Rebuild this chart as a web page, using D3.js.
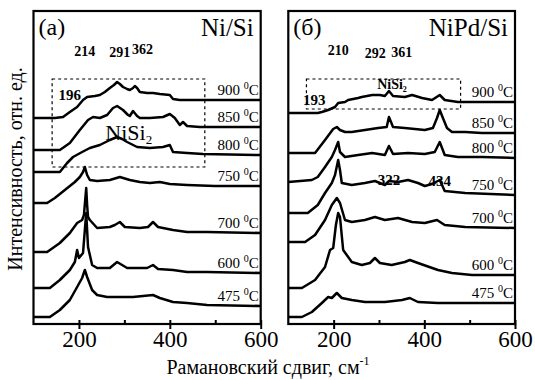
<!DOCTYPE html>
<html><head><meta charset="utf-8">
<script src="https://cdn.jsdelivr.net/npm/d3@7/dist/d3.min.js"></script>
<style>body{margin:0;background:#fff}text{font-family:"Liberation Serif","Times New Roman",serif;fill:#000}</style>
</head><body>
<svg id="c" width="535" height="380"></svg>
<script>
// ---------- data (Raman shift cm^-1, offset intensity, arb. units) ----------
const temperatures = ["475", "600", "700", "750", "800", "850", "900"];
const xTicksMajor = [200, 400, 600];
const xTicksMinor = [300, 500];

// Ni/Si panel (a)
const niSi475 = [[100,7],[136,7],[158,14],[180,24],[196,37],[207,46],[213,54],[218,47],[229,34],[240,29],[262,27],[290,27],[319,27],[363,29],[378,26],[407,22],[438,21],[482,19],[600,18]];
const niSi600 = [[100,36],[136,36],[158,44],[180,54],[191,62],[196,74],[200,66],[209,71],[213,94],[216,111],[218,94],[220,77],[229,59],[240,56],[268,56],[284,62],[295,59],[306,56],[350,56],[363,59],[374,55],[407,54],[438,52],[482,52],[600,51]];
const niSi700 = [[100,72],[130,72],[158,81],[180,91],[196,101],[207,104],[211,109],[216,136],[218,119],[220,107],[224,104],[240,96],[268,97],[279,99],[290,102],[301,97],[334,96],[352,97],[363,102],[374,97],[407,94],[438,92],[482,92],[600,91]];
const niSi750 = [[100,121],[130,121],[147,126],[169,134],[191,142],[202,147],[209,152],[213,157],[218,149],[224,144],[240,143],[268,144],[290,147],[312,144],[334,142],[356,141],[378,142],[400,140],[438,139],[499,138],[600,138]];
const niSi800 = [[100,152],[158,152],[174,161],[187,167],[207,172],[224,176],[246,179],[268,184],[284,187],[295,185],[306,182],[328,177],[356,176],[385,177],[400,179],[407,172],[438,171],[473,170],[600,169]];
const niSi850 = [[100,174],[158,174],[180,181],[202,194],[220,204],[231,207],[246,206],[262,209],[275,216],[284,218],[297,214],[308,209],[312,208],[319,213],[328,208],[334,206],[356,206],[385,207],[400,210],[411,206],[422,199],[429,202],[438,198],[466,197],[600,197]];
const niSi900 = [[100,206],[147,206],[165,207],[180,212],[196,217],[209,224],[218,227],[235,228],[246,229],[257,232],[268,236],[277,239],[284,242],[290,240],[297,237],[306,235],[312,234],[319,236],[323,238],[328,236],[334,232],[350,231],[363,231],[378,230],[400,229],[407,225],[422,224],[438,224],[466,224],[532,224],[600,224]];

// NiPd/Si panel (б)
const niPdSi475 = [[100,7],[130,7],[152,12],[174,21],[188,27],[196,26],[207,31],[218,26],[240,24],[269,22],[313,22],[351,24],[368,26],[386,22],[430,21],[505,21],[600,21]];
const niPdSi600 = [[100,36],[130,36],[159,44],[181,57],[192,74],[199,76],[205,99],[210,111],[214,107],[221,74],[240,62],[262,59],[280,61],[291,66],[302,61],[328,59],[357,62],[368,64],[386,61],[430,54],[461,51],[505,49],[600,49]];
const niPdSi700 = [[100,82],[137,82],[159,89],[181,104],[196,119],[207,126],[214,121],[225,104],[240,102],[269,104],[291,107],[313,104],[342,106],[373,102],[401,101],[428,104],[445,99],[490,97],[600,96]];
const niPdSi750 = [[100,111],[143,111],[165,119],[181,131],[196,141],[203,149],[210,164],[214,154],[218,141],[240,139],[269,141],[291,143],[313,139],[322,143],[342,142],[364,144],[386,141],[401,138],[417,140],[434,144],[445,133],[490,131],[600,129]];
const niPdSi800 = [[100,142],[152,144],[165,147],[181,157],[196,167],[203,174],[210,182],[214,172],[225,167],[254,169],[285,171],[313,169],[322,178],[331,170],[364,171],[401,170],[423,172],[434,182],[445,169],[474,167],[527,167],[600,166]];
const niPdSi850 = [[100,171],[159,171],[181,184],[199,195],[207,197],[214,194],[225,192],[240,192],[269,194],[298,196],[317,197],[322,207],[331,197],[357,196],[401,194],[419,196],[428,206],[434,214],[441,206],[450,196],[461,192],[490,192],[527,191],[600,191]];
const niPdSi900 = [[100,211],[165,211],[174,212],[188,214],[203,217],[210,221],[225,222],[232,224],[254,226],[262,227],[285,229],[302,229],[313,228],[322,233],[331,228],[357,227],[373,229],[395,226],[417,224],[434,229],[445,224],[474,222],[518,222],[600,222]];

const niSiSeries = [niSi475, niSi600, niSi700, niSi750, niSi800, niSi850, niSi900];
const niPdSiSeries = [niPdSi475, niPdSi600, niPdSi700, niPdSi750, niPdSi800, niPdSi850, niPdSi900];

const niSiPeaks = ["214", "291", "362"];
const niPdSiPeaks = ["210", "292", "361"];

// ---------- drawing ----------
const svg = d3.select("#c");
const plotTop = 11, plotBottom = 324;
const y = d3.scaleLinear().domain([0, 313]).range([plotBottom, plotTop]);

function panel(id, x0, x1, series, title, letter) {
  const x = d3.scaleLinear().domain([100, 600]).range([x0, x1]);
  const g = svg.append("g");
  g.append("clipPath").attr("id", "clip" + id).append("rect")
    .attr("x", x0).attr("y", plotTop).attr("width", x1 - x0).attr("height", plotBottom - plotTop);
  const line = d3.line().x(d => x(d[0])).y(d => y(d[1]));
  const lines = g.append("g").attr("clip-path", `url(#clip${id})`);
  series.forEach(s => {
    lines.append("path").attr("d", line(s)).attr("fill", "none")
      .attr("stroke", "#000").attr("stroke-width", 2.5).attr("stroke-linejoin", "round");
  });
  series.forEach((s, i) => {
    const last = s[s.length - 1];
    const t = g.append("text").attr("x", x1 - 2).attr("y", y(last[1]) - 5)
      .attr("text-anchor", "end").style("font-size", "15px");
    t.append("tspan").text(temperatures[i] + " ");
    t.append("tspan").text("0").style("font-size", "10px").attr("dy", -6);
    t.append("tspan").text("C").attr("dy", 6);
  });
  g.append("rect").attr("x", x0).attr("y", plotTop).attr("width", x1 - x0).attr("height", plotBottom - plotTop)
    .attr("fill", "none").attr("stroke", "#000").attr("stroke-width", 2.2);
  const ax = g.append("g").attr("transform", `translate(0,${plotBottom})`)
    .call(d3.axisBottom(x).tickValues(xTicksMajor).tickSizeInner(5).tickSizeOuter(0).tickPadding(2));
  ax.select(".domain").remove();
  ax.selectAll("line").attr("stroke-width", 2);
  ax.selectAll("text").style("font-size", "23px").style("font-family", '"Liberation Serif",serif').attr("fill", "#000");
  const axIn = g.append("g").attr("transform", `translate(0,${plotBottom})`)
    .call(d3.axisBottom(x).tickValues(xTicksMajor.concat(xTicksMinor)).tickSizeInner(-4).tickSizeOuter(0).tickFormat(""));
  axIn.select(".domain").remove();
  axIn.selectAll("line").attr("stroke-width", 2);
  g.append("text").attr("x", x0 + 5).attr("y", 35).style("font-size", "24px").text(letter);
  g.append("text").attr("x", x1 - 7).attr("y", 36).attr("text-anchor", "end").style("font-size", "25px").text(title);
  return x;
}

const xa = panel("a", 33.5, 260.7, niSiSeries, "Ni/Si", "(a)");
const xb = panel("b", 288.3, 515, niPdSiSeries, "NiPd/Si", "(б)");

function bold(xp, yp, txt, size) {
  svg.append("text").attr("x", xp).attr("y", yp).attr("text-anchor", "middle")
    .style("font-size", (size || 14) + "px").style("font-weight", "bold").text(txt);
}
bold(xa(213), 56, niSiPeaks[0]);
bold(xa(290), 57, niSiPeaks[1]);
bold(xa(340), 54, niSiPeaks[2]);
bold(xa(180), 100, "196", 15);
const ns = svg.append("text").attr("x", xa(258)).attr("y", 140).style("font-size", "22px");
ns.append("tspan").text("NiSi");
ns.append("tspan").text("2").style("font-size", "13px").attr("dy", 4);
svg.append("rect").attr("x", xa(141)).attr("y", 79).attr("width", xa(477) - xa(141)).attr("height", 88)
  .attr("fill", "none").attr("stroke", "#000").attr("stroke-width", 1.2).attr("stroke-dasharray", "3,3");
svg.append("rect").attr("x", xb(140)).attr("y", 79).attr("width", xb(480) - xb(140)).attr("height", 30)
  .attr("fill", "none").attr("stroke", "#000").attr("stroke-width", 1.2).attr("stroke-dasharray", "3,3");

bold(xb(210), 55, niPdSiPeaks[0]);
bold(xb(292), 58, niPdSiPeaks[1]);
bold(xb(350), 57, niPdSiPeaks[2]);
const nb = svg.append("text").attr("x", xb(296)).attr("y", 89).style("font-size", "14px").style("font-weight", "bold");
nb.append("tspan").text("NiSi");
nb.append("tspan").text("2").style("font-size", "8px").attr("dy", 3);
bold(xb(157), 105, "193", 15);
bold(xb(322), 185, "322", 15);
bold(xb(434), 186, "434", 15);

svg.append("text").attr("transform", "translate(22,169) rotate(-90)").attr("text-anchor", "middle")
  .style("font-size", "20px").text("Интенсивность, отн. ед.");
const xt = svg.append("text").attr("x", 268).attr("y", 374).attr("text-anchor", "middle").style("font-size", "20px");
xt.append("tspan").text("Рамановский сдвиг, см");
xt.append("tspan").text("-1").style("font-size", "12px").attr("dy", -9);
</script>
</body></html>
